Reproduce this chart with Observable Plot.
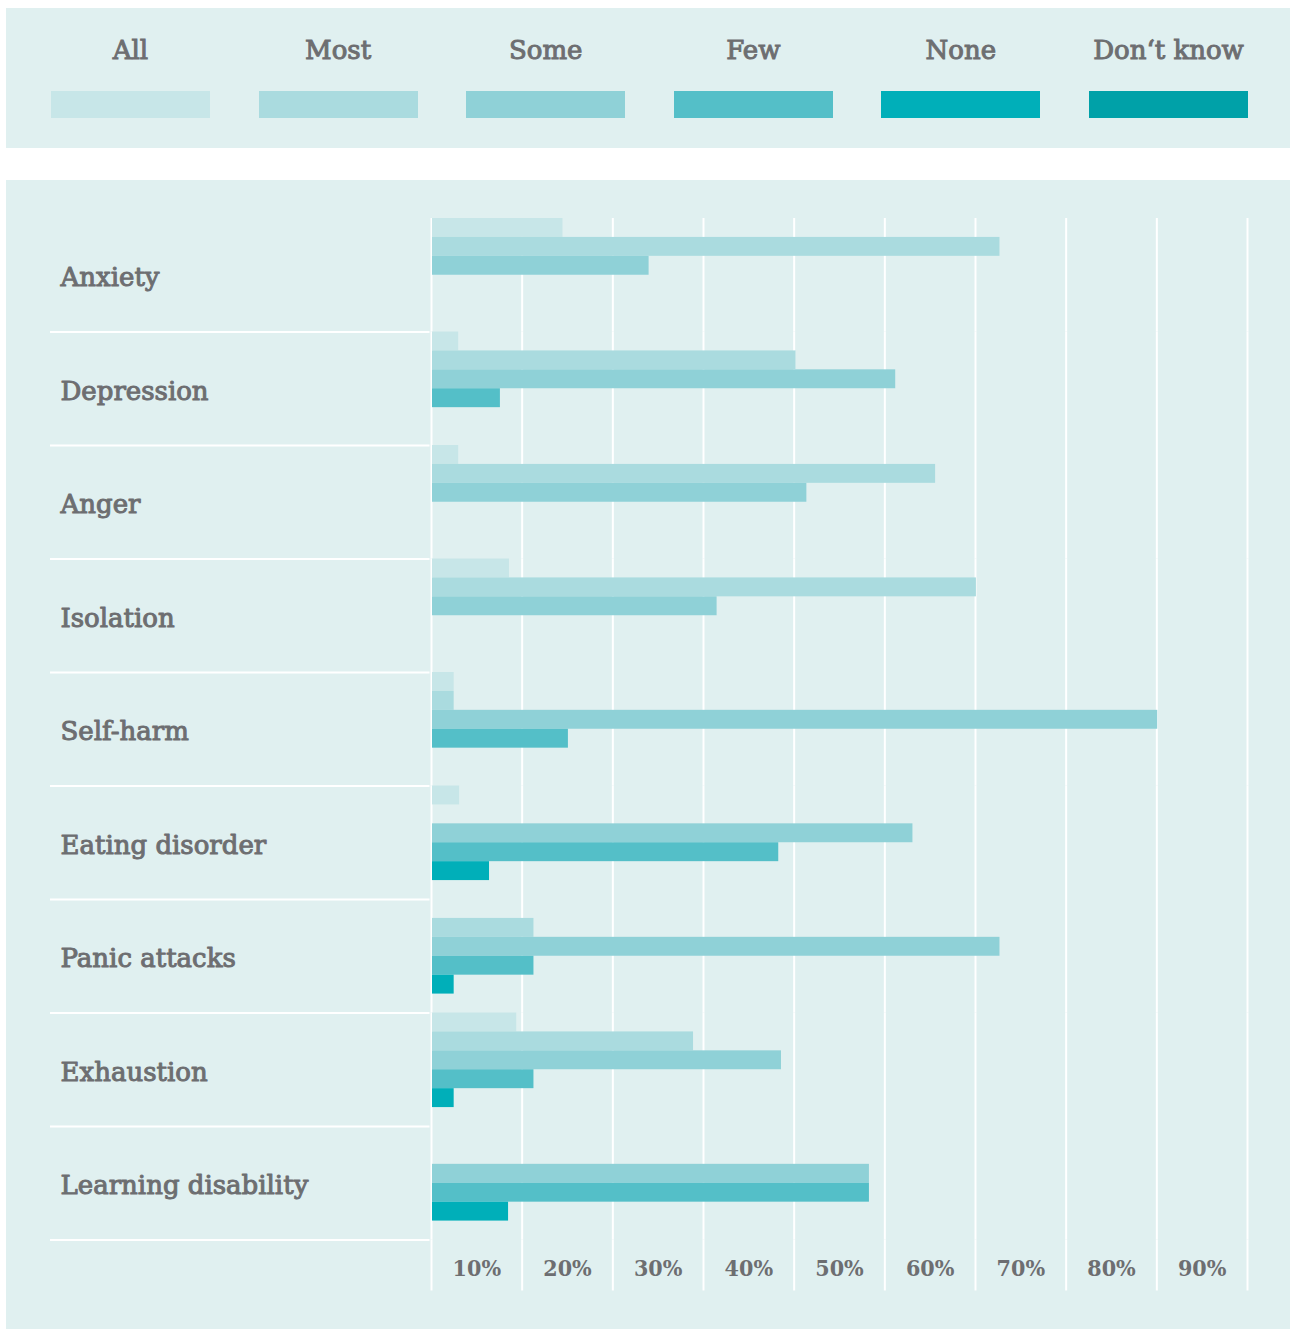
<!DOCTYPE html>
<html><head><meta charset="utf-8">
<script src="https://cdn.jsdelivr.net/npm/d3@7"></script>
<script src="https://cdn.jsdelivr.net/npm/@observablehq/plot@0.6"></script>
<style>
body{margin:0;background:#fff;}
#wrap{position:relative;width:1290px;height:1329px;overflow:hidden;}
#legend{position:absolute;left:6px;top:8px;width:1284px;height:140px;background:#e0f0f0;}
.item{position:absolute;top:0;width:159px;height:140px;}
.lab{position:absolute;left:-40px;right:-40px;top:26px;line-height:32px;text-align:center;font-family:"DejaVu Serif";font-size:26px;color:#6d6e71;-webkit-text-stroke:1px #6d6e71;white-space:nowrap;}
.sw{position:absolute;left:0;top:83px;width:159px;height:27px;}
#chart{position:absolute;left:6px;top:180px;width:1284px;height:1149px;background:#e0f0f0;}
</style></head>
<body>
<div id="wrap"><div id="legend"></div><div id="chart"></div></div>
<script>
const categories = ["Anxiety","Depression","Anger","Isolation","Self-harm","Eating disorder","Panic attacks","Exhaustion","Learning disability"];
const series = ["All","Most","Some","Few","None","Don\u2018t know"];
const colors = ["#c7e6e8","#aadbdf","#8fd1d7","#54bfc8","#00afb9","#00a1a8"];
const valAll      = [14.5, 3.0, 3.0, 8.6, 2.5, 3.1, 0, 9.4, 0];
const valMost     = [62.7, 40.2, 55.6, 60.1, 2.5, 0, 11.3, 28.9, 0];
const valSome     = [24.0, 51.2, 41.4, 31.5, 80.1, 53.1, 62.7, 38.6, 48.3];
const valFew      = [0, 7.6, 0, 0, 15.1, 38.3, 11.3, 11.3, 48.3];
const valNone     = [0, 0, 0, 0, 0, 6.4, 2.5, 2.5, 8.5];
const valDontKnow = [0, 0, 0, 0, 0, 0, 0, 0, 0];
const xLabelTicks = [10, 20, 30, 40, 50, 60, 70, 80, 90];
const gridTicks = [0, 10, 20, 30, 40, 50, 60, 70, 80, 90];

const seriesValues = [valAll, valMost, valSome, valFew, valNone, valDontKnow];
const data = [];
categories.forEach((c, i) => series.forEach((s, j) => {
  const v = seriesValues[j][i];
  if (v > 0) data.push({category: c, series: s, value: v});
}));

const textColor = "#6d6e71";
const font = "DejaVu Serif";

// legend
const legend = document.getElementById("legend");
series.forEach((s, i) => {
  const it = document.createElement("div");
  it.className = "item";
  it.style.left = (45 + i * 207.6) + "px";
  const lab = document.createElement("div"); lab.className = "lab"; lab.textContent = s;
  const sw = document.createElement("div"); sw.className = "sw"; sw.style.background = colors[i];
  it.appendChild(lab); it.appendChild(sw); legend.appendChild(it);
});

const W = 1284, H = 1149, ML = 425, MR = 43, MT = 38, MB = 89.5;
const facetH = (H - MT - MB) / categories.length;
const slotH = facetH / series.length;
const halfStep = (W - ML - MR) / (gridTicks.length - 1) / 2;

const chart = Plot.plot({
  width: W, height: H,
  marginLeft: ML, marginRight: MR, marginTop: MT, marginBottom: MB,
  style: {background: "transparent", fontFamily: font},
  x: {domain: [0, 90], label: null},
  y: {domain: series, padding: 0, round: false, axis: null},
  fy: {domain: categories, padding: 0, round: false, axis: null},
  color: {domain: series, range: colors},
  marks: [
    Plot.gridX(gridTicks, {stroke: "white", strokeWidth: 2, strokeOpacity: 1}),
    Plot.axisX(gridTicks, {anchor: "bottom", label: null, tickSize: 51, stroke: "white", strokeWidth: 2, strokeOpacity: 1, tickFormat: () => ""}),
    Plot.axisX(xLabelTicks, {anchor: "bottom", label: null, tickSize: 0, tickPadding: 28.5, lineAnchor: "middle", dx: -halfStep,
      tickFormat: d => d + "%", fontSize: 23, fontWeight: "bold", fill: textColor,
      fontFamily: "'DejaVu Serif Condensed', 'DejaVu Serif'"}),
    Plot.barX(data, {x: "value", y: "series", fy: "category", fill: "series", insetLeft: 1}),
    Plot.ruleY(categories, {fy: d => d, y: () => series[series.length - 1], dy: slotH / 2, stroke: "white", strokeWidth: 2,
      insetLeft: -(ML - 44), insetRight: (W - MR) - 423.5}),
    Plot.text(categories, {fy: d => d, text: d => d, frameAnchor: "left", textAnchor: "start", dx: -(ML - 54), dy: 2.5,
      fontSize: 26, fill: textColor, stroke: textColor, strokeWidth: 1, fontFamily: font})
  ]
});
document.getElementById("chart").appendChild(chart);
</script>
</body></html>
